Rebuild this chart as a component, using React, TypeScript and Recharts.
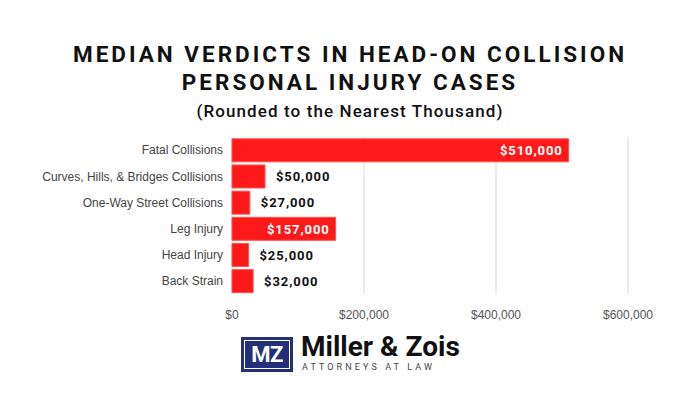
import React from "react";
import { Bar, BarChart, CartesianGrid, LabelList, XAxis, YAxis } from "recharts";

const categories = [
  "Fatal Collisions",
  "Curves, Hills, & Bridges Collisions",
  "One-Way Street Collisions",
  "Leg Injury",
  "Head Injury",
  "Back Strain",
];
const verdicts = [510000, 50000, 27000, 157000, 25000, 32000];
const xTicks = [0, 200000, 400000, 600000];

const data = categories.map((name, i) => ({ name, value: verdicts[i] }));

const money = (v: number) => "$" + v.toLocaleString("en-US");

const FONT = "Roboto, 'Open Sans', sans-serif";
const AXIS_FONT = "'Liberation Sans', Arial, sans-serif";

function ValueLabel(props: any) {
  const { x, y, width, height, value } = props;
  const inside = value > 100000;
  const cy = y + height / 2;
  return (
    <text
      x={inside ? x + width - 6 : x + width + 11}
      y={cy}
      dy="0.36em"
      textAnchor={inside ? "end" : "start"}
      fill={inside ? "#ffffff" : "#111111"}
      fontFamily={FONT}
      fontWeight={700}
      fontSize={13}
      letterSpacing={0.9}
    >
      {money(value)}
    </text>
  );
}

export default function App() {
  return (
    <div
      style={{
        position: "absolute",
        left: 0,
        top: 0,
        width: 700,
        height: 394,
        background: "#ffffff",
        fontFamily: FONT,
      }}
    >
      <div
        style={{
          position: "absolute",
          top: 41,
          left: 0,
          width: 700,
          textAlign: "center",
          fontWeight: 700,
          fontSize: 22.5,
          letterSpacing: 3,
          lineHeight: "27.5px",
          color: "#111",
        }}
      >
        MEDIAN VERDICTS IN HEAD-ON COLLISION
        <br />
        PERSONAL INJURY CASES
      </div>
      <div
        style={{
          position: "absolute",
          top: 101,
          left: 0,
          width: 700,
          textAlign: "center",
          fontWeight: 500,
          fontSize: 17,
          letterSpacing: 1.1,
          color: "#111",
        }}
      >
        (Rounded to the Nearest Thousand)
      </div>

      <div style={{ position: "absolute", top: 127, left: 0 }}>
        <BarChart
          width={700}
          height={205}
          data={data}
          layout="vertical"
          margin={{ top: 10, right: 72, bottom: 0, left: 0 }}
          barCategoryGap="7%"
        >
          <CartesianGrid horizontal={false} stroke="#e6e6e6" strokeWidth={1.5} />
          <XAxis
            type="number"
            domain={[0, 600000]}
            ticks={xTicks}
            tickFormatter={money}
            axisLine={false}
            tickLine={false}
            tick={{ fill: "#555", fontSize: 12, fontFamily: AXIS_FONT }}
            tickMargin={10}
            height={38}
          />
          <YAxis
            type="category"
            dataKey="name"
            width={232}
            axisLine={false}
            tickLine={false}
            tickSize={6}
            tickMargin={3}
            tick={{ fill: "#444", fontSize: 12, fontFamily: AXIS_FONT }}
          />
          <Bar
            dataKey="value"
            fill="#ff1a1a"
            stroke="#ff5050"
            strokeWidth={1}
            isAnimationActive={false}
          >
            <LabelList dataKey="value" content={<ValueLabel />} />
          </Bar>
        </BarChart>
      </div>

      <div
        style={{
          position: "absolute",
          left: 241,
          top: 337,
          width: 52,
          height: 35,
          background: "#22307a",
        }}
      >
        <div
          style={{
            position: "absolute",
            left: 3,
            top: 3,
            right: 3,
            bottom: 3,
            border: "1px solid #ffffff",
            color: "#fff",
            fontWeight: 700,
            fontSize: 22,
            lineHeight: "27px",
            textAlign: "center",
            letterSpacing: -0.5,
          }}
        >
          MZ
        </div>
      </div>
      <div
        style={{
          position: "absolute",
          left: 301,
          top: 330,
          fontWeight: 700,
          fontSize: 28,
          color: "#111",
          letterSpacing: 0,
          whiteSpace: "nowrap",
        }}
      >
        Miller &amp; Zois
      </div>
      <div
        style={{
          position: "absolute",
          left: 302,
          top: 362,
          fontSize: 9,
          color: "#444",
          letterSpacing: 3.1,
          whiteSpace: "nowrap",
        }}
      >
        ATTORNEYS AT LAW
      </div>
    </div>
  );
}
